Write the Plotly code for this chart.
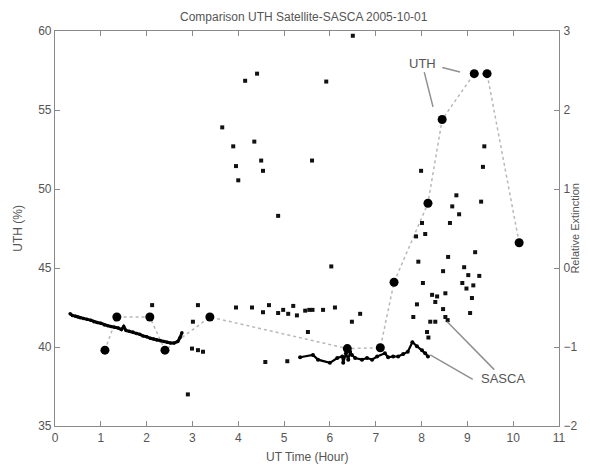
import plotly.graph_objects as go

# ---- Data -------------------------------------------------------------
# UTH from satellite (big dots, dotted connector), left axis (%)
uth_time = [1.09, 1.35, 2.07, 2.40, 3.38, 6.38, 7.10, 7.40, 8.14, 8.45, 9.15, 9.43, 10.13]
uth_val = [39.8, 41.9, 41.9, 39.8, 41.9, 39.9, 39.95, 44.1, 49.1, 54.4, 57.3, 57.3, 46.6]

# SASCA UTH trace, first segment (left axis %)
sasca1_time = [0.33, 0.38, 0.45, 0.50, 0.55, 0.62, 0.70, 0.78, 0.85, 0.92, 1.00, 1.08,
               1.15, 1.22, 1.30, 1.38, 1.45, 1.50, 1.55, 1.62, 1.70, 1.78, 1.85, 1.92,
               2.00, 2.08, 2.15, 2.22, 2.30, 2.38, 2.45, 2.52, 2.60, 2.68, 2.73, 2.77]
sasca1_val = [42.1, 42.0, 41.95, 41.9, 41.85, 41.8, 41.75, 41.7, 41.6, 41.55, 41.5, 41.4,
              41.35, 41.3, 41.25, 41.2, 41.1, 41.3, 41.05, 41.0, 40.95, 40.85, 40.8, 40.7,
              40.65, 40.55, 40.5, 40.45, 40.4, 40.35, 40.3, 40.25, 40.25, 40.35, 40.6, 40.9]

# SASCA UTH trace, second segment (left axis %)
sasca2_time = [5.35, 5.63, 5.74, 6.00, 6.16, 6.27, 6.29, 6.35, 6.40, 6.44, 6.48, 6.55,
               6.70, 6.81, 6.92, 7.03, 7.20, 7.27, 7.38, 7.49, 7.60, 7.70, 7.80, 7.90,
               8.01, 8.08, 8.14]
sasca2_val = [39.35, 39.5, 39.2, 39.0, 39.3, 39.4, 39.0, 39.6, 39.2, 39.7, 39.5, 39.3,
              39.2, 39.3, 39.2, 39.4, 39.6, 39.35, 39.4, 39.4, 39.55, 39.7, 40.3, 40.05,
              39.8, 39.6, 39.4]

# Relative extinction (small scattered dots), right axis
ext_time = [2.12, 3.01, 3.12, 2.90, 2.99, 3.12, 3.23,
            4.41, 4.15, 5.92, 3.65, 4.35, 3.89, 4.50, 5.61, 3.95, 4.54, 4.00, 4.87, 6.03, 6.50,
            3.95, 4.30, 4.54, 4.67, 4.87, 4.98, 5.09, 5.20, 5.28, 5.46, 5.55, 5.62, 5.85, 6.11,
            6.66, 6.48, 5.52, 4.59, 5.07,
            7.99, 9.37, 9.34, 8.76, 8.67, 8.82, 9.30, 8.62, 8.01, 7.88, 8.08, 9.17, 8.58, 7.93,
            8.47, 8.03, 8.93, 9.02, 9.26, 9.13, 8.89, 8.98, 9.10, 9.06, 8.23, 8.34, 8.52, 8.30,
            8.47, 8.52, 8.57, 7.90, 7.82, 8.19, 8.30, 8.12, 8.15]
ext_val = [-0.47, -0.68, -0.47, -1.6, -1.02, -1.04, -1.06,
           2.46, 2.37, 2.36, 1.78, 1.6, 1.54, 1.36, 1.36, 1.29, 1.23, 1.11, 0.66, 0.02, 2.94,
           -0.5, -0.5, -0.56, -0.47, -0.57, -0.53, -0.58, -0.48, -0.6, -0.54, -0.53, -0.53, -0.53, -0.5,
           -0.58, -0.68, -0.81, -1.19, -1.18,
           1.23, 1.54, 1.28, 0.92, 0.78, 0.68, 0.84, 0.57, 0.57, 0.4, 0.43, 0.2, 0.14, 0.08,
           -0.04, -0.19, 0.01, -0.09, -0.1, -0.22, -0.19, -0.26, -0.38, -0.57, -0.34, -0.36, -0.32, -0.43,
           -0.52, -0.62, -0.66, -0.46, -0.62, -0.68, -0.68, -0.81, -0.88]

x_ticks = list(range(0, 12))
left_ticks = [35, 40, 45, 50, 55, 60]
right_ticks = [-2, -1, 0, 1, 2, 3]

# ---- Figure -----------------------------------------------------------
AX = "#8a8a8a"
TXT = "#555555"
FONT = "Liberation Sans, Arial, sans-serif"

fig = go.Figure()

fig.add_trace(go.Scatter(x=uth_time, y=uth_val, mode="lines+markers",
                         line=dict(color="#b8b8b8", width=1.5, dash="dot"),
                         marker=dict(color="black", size=9),
                         name="UTH", showlegend=False))
fig.add_trace(go.Scatter(x=sasca1_time, y=sasca1_val, mode="lines+markers",
                         line=dict(color="black", width=3),
                         marker=dict(color="black", size=3.5),
                         name="SASCA", showlegend=False))
fig.add_trace(go.Scatter(x=sasca2_time, y=sasca2_val, mode="lines+markers",
                         line=dict(color="black", width=2.2),
                         marker=dict(color="black", size=4),
                         name="SASCA", showlegend=False))
fig.add_trace(go.Scatter(x=ext_time, y=ext_val, mode="markers", yaxis="y2",
                         marker=dict(color="#111111", size=4, symbol="square"),
                         name="Relative Extinction", showlegend=False))

arrow_common = dict(xref="x", yref="y", axref="x", ayref="y", showarrow=True,
                    arrowcolor="#909090", arrowwidth=1.5, arrowhead=0,
                    font=dict(family=FONT, size=13, color=TXT))

label_font = dict(family=FONT, size=12, color=TXT)

annotations = [
    dict(text="UTH", x=8.25, y=55.2, ax=8.01, ay=57.97, **arrow_common),
    dict(text="", x=8.84, y=57.4, ax=8.42, ay=57.72, **arrow_common),
    dict(text="SASCA", x=8.56, y=41.6, ax=9.78, ay=38.0, **arrow_common),
    dict(text="", x=8.19, y=39.5, ax=9.15, ay=37.9, **arrow_common),
    # axis titles
    dict(text="UT Time (Hour)", xref="paper", yref="paper", x=0.5, y=-0.078,
         xanchor="center", yanchor="middle", showarrow=False, font=label_font),
    dict(text="UTH (%)", xref="paper", yref="paper", x=-0.075, y=0.5,
         xanchor="center", yanchor="middle", textangle=-90, showarrow=False,
         font=label_font),
    dict(text="Relative Extinction", xref="paper", yref="paper", x=1.03, y=0.5,
         xanchor="center", yanchor="middle", textangle=-90, showarrow=False,
         font=dict(family=FONT, size=11, color=TXT)),
    # chart title
    dict(text="Comparison UTH Satellite-SASCA 2005-10-01", xref="paper", yref="paper",
         x=0.495, y=1.036, xanchor="center", yanchor="middle", showarrow=False,
         font=label_font),
]

axis_common = dict(showline=True, linecolor=AX, linewidth=1.2, ticks="inside",
                   tickcolor=AX, ticklen=5, showgrid=False, zeroline=False,
                   automargin=False,
                   tickfont=dict(family=FONT, size=12, color=TXT))

# the page body adds an 8px offset, so margins are shifted to compensate
fig.update_layout(
    width=590, height=470,
    margin=dict(l=47, r=39, t=23, b=52),
    paper_bgcolor="white", plot_bgcolor="white",
    font=dict(family=FONT, color=TXT),
    xaxis=dict(range=[0, 11], tickvals=x_ticks, mirror="ticks", **axis_common),
    yaxis=dict(range=[35, 60], tickvals=left_ticks, **axis_common),
    yaxis2=dict(range=[-2, 3], tickvals=right_ticks, overlaying="y", side="right",
                ticklabelstandoff=1, **axis_common),
    annotations=annotations,
)

fig.write_html("out.html")
